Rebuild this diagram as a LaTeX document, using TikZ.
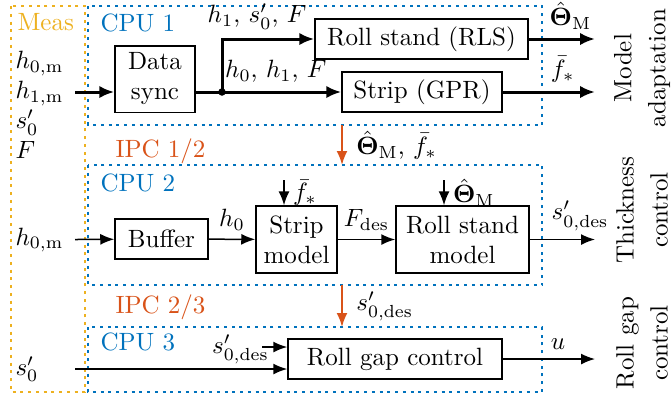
\documentclass[tikz,border=0pt]{standalone}
\usepackage{amsmath,bm}
\usetikzlibrary{arrows.meta}
\definecolor{cpublue}{HTML}{0072BD}
\definecolor{ipcorange}{HTML}{D95319}
\definecolor{measyellow}{HTML}{EDB120}
\tikzset{
	blk/.style={draw, semithick, align=center, inner sep=2pt},
	sig/.style={-{Latex[length=5.6pt,width=4.4pt]}, semithick},
	bus/.style={-{Latex[length=6pt,width=5pt]}, very thick},
	ipc/.style={sig, thick, draw=ipcorange},
	frame/.style={line width=0.6pt, dash pattern=on 1.2pt off 1.9pt},
	unit/.style={anchor=west, inner sep=0pt},
	side/.style={rotate=90, align=center},
}
\begin{document}
\begin{tikzpicture}[x=0.4pt,y=-0.4pt]
	\useasboundingbox (0,0) rectangle (671,396);
	% frames for the measurements and the three CPUs
	\draw[frame, draw=measyellow] (11,6) rectangle (85,392);
	\draw[frame, draw=cpublue] (88,6) rectangle (542,125);
	\draw[frame, draw=cpublue] (88,165) rectangle (542,285);
	\draw[frame, draw=cpublue] (88,327) rectangle (542,392);
	\node[unit, text=measyellow] (meas) at (17,22) {Meas};
	\node[unit, text=cpublue] (cpu1) at (100,23) {CPU 1};
	\node[unit, text=cpublue] (cpu2) at (100,183) {CPU 2};
	\node[unit, text=cpublue] (cpu3) at (100,342) {CPU 3};
	\node[unit, text=ipcorange] (ipc12) at (115,151) {IPC 1/2};
	\node[unit, text=ipcorange] (ipc23) at (115,307) {IPC 2/3};
	\coordinate (right) at (595,0);

	% CPU 1: model adaptation
	\node[anchor=north west, align=left, inner sep=0pt] (meas1) at (15,51) {$h_{0,\mathrm{m}}$\\$h_{1,\mathrm{m}}$\\$s'_0$\\$F$};
	\node[blk, minimum width=32pt, minimum height=26.6pt] (sync) at (155,79) {Data\\sync};
	\node[blk, minimum width=85.2pt, minimum height=16pt] (rls) at (421.5,39) {Roll stand (RLS)};
	\node[blk, minimum width=64pt, minimum height=16pt] (gpr) at (422,92) {Strip (GPR)};
	\coordinate (in1) at (75,92);
	\coordinate (split) at (222,92);
	\draw[bus] (in1) -- (in1 -| sync.west);
	\draw[bus] (sync.east |- split) -- (gpr.west |- split) node[pos=0.55, above] (lblgpr) {$h_0$, $h_1$, $F$};
	\draw[bus] (split) |- (rls.west) node[pos=0.69, above] (lblrls) {$h_1$, $s'_0$, $F$};
	\fill (split) circle (1.5pt);
	\draw[bus] (rls) -- (rls -| right) node[pos=0.63, above] (lbltheta) {$\hat{\bm{\Theta}}_\mathrm{M}$};
	\draw[bus] (gpr) -- (gpr -| right) node[pos=0.65, above] (lblf) {$\bar{f}_*$};
	\node[side] (adapt) at (642,68) {Model\\[1.6pt]adaptation};

	% IPC between the CPUs
	\coordinate (ipcA) at (342,125);
	\coordinate (ipcB) at (342,165);
	\draw[ipc] (ipcA) -- (ipcB) node[midway, right, xshift=2pt] (lblipc12) {$\hat{\bm{\Theta}}_\mathrm{M}$, $\bar{f}_*$};
	\coordinate (ipcC) at (342,285);
	\coordinate (ipcD) at (342,327);
	\draw[ipc] (ipcC) -- (ipcD) node[midway, right, xshift=2pt] (lblipc23) {$s'_{0,\mathrm{des}}$};

	% CPU 2: thickness control
	\node[unit] (meas2) at (15,240) {$h_{0,\mathrm{m}}$};
	\node[blk, minimum width=37.2pt, minimum height=16pt] (buf) at (161.5,239) {Buffer};
	\node[blk, minimum width=32.4pt, minimum height=26.8pt] (stripm) at (296.5,239.5) {Strip\\model};
	\node[blk, minimum width=53.2pt, minimum height=26.8pt] (rsm) at (462.5,239.5) {Roll stand\\model};
	\coordinate (in2) at (75,239.5);
	\coordinate (fin) at (284,180);
	\coordinate (thin) at (444,180);
	\draw[sig] (in2) -- (buf);
	\draw[sig] (buf) -- (stripm) node[midway, above] (lblh) {$h_0$};
	\draw[sig] (stripm) -- (rsm) node[midway, above] (lblfdes) {$F_\mathrm{des}$};
	\draw[sig] (fin) -- (fin |- stripm.north) node[midway, right] (lblfin) {$\bar{f}_*$};
	\draw[sig] (thin) -- (thin |- rsm.north) node[midway, right] (lblthin) {$\hat{\bm{\Theta}}_\mathrm{M}$};
	\draw[sig] (rsm) -- (rsm -| right) node[pos=0.77, above] (lblsdes) {$s'_{0,\mathrm{des}}$};
	\node[side] (thick) at (642,210) {Thickness\\[1.6pt]control};

	% CPU 3: roll gap control
	\node[unit] (meas3) at (15,369) {$s'_0$};
	\node[blk, minimum width=85.6pt, minimum height=16pt] (rgc) at (395,359) {Roll gap control};
	\coordinate (in3) at (75,369);
	\coordinate (sdes) at (262,347);
	\draw[sig] (in3) -- (in3 -| rgc.west);
	\draw[sig] (sdes) node[left, inner sep=0pt, xshift=3pt, yshift=-1pt] (lblsin) {$s'_{0,\mathrm{des}}$} -- (sdes -| rgc.west);
	\draw[sig] (rgc) -- (rgc -| right) node[pos=0.6, above] (lblu) {$u$};
	\node[side] (gap) at (642,343) {Roll gap\\[1.6pt]control};
\end{tikzpicture}
\end{document}
